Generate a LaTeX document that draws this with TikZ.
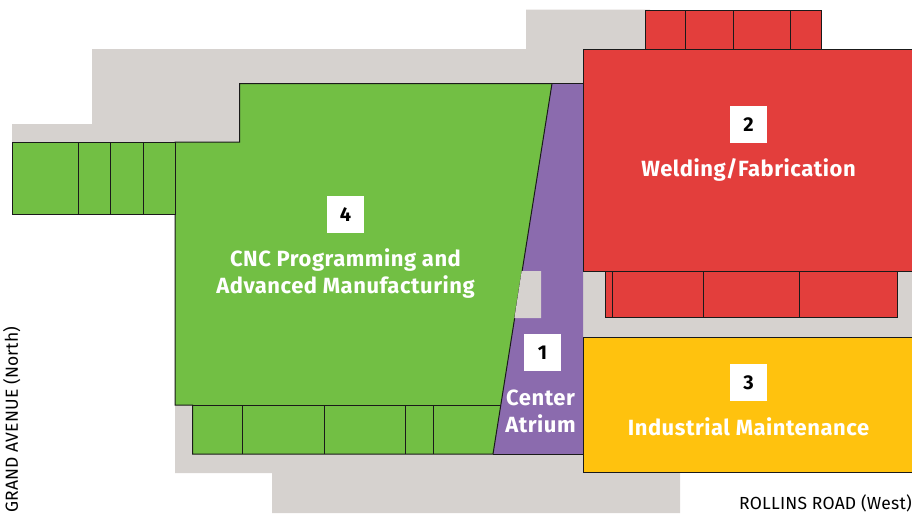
\documentclass[tikz,border=0pt]{standalone}
\usepackage{fontspec}
\setmainfont{Fira Sans}
\newfontfamily\lblfont[LetterSpace=2.4]{Fira Sans}
\newfontfamily\streetfont[LetterSpace=1.2]{Fira Sans}
\definecolor{grayarea}{HTML}{D6D2CF}
\definecolor{greenarea}{HTML}{72BF44}
\definecolor{redarea}{HTML}{E33E3C}
\definecolor{purplearea}{HTML}{8B6BAE}
\definecolor{yellowarea}{HTML}{FFC20E}
\definecolor{edgeline}{HTML}{1A1A1A}
\tikzset{
  x=1pt,y=-1pt,
  room/.style={draw=edgeline,line width=1pt,line join=miter},
  divider/.style={draw=edgeline,line width=1pt},
  numbox/.style={fill=white,minimum width=37pt,minimum height=37pt,inner sep=0pt,font=\fontsize{20}{20}\selectfont\bfseries,text=black},
  roomlabel/.style={text=white,align=center,font=\lblfont\fontsize{22}{27}\bfseries\selectfont,inner sep=0pt},
  streetlabel/.style={text=black,font=\streetfont\fontsize{17.5}{18}\selectfont,inner sep=0pt}
}
\begin{document}
\begin{tikzpicture}
\useasboundingbox (0,0) rectangle (912,514);
% ground
\fill[grayarea] (12,124) -- (92,124) -- (92,49) -- (526,49) -- (526,9.5) -- (650,9.5) -- (650,60) -- (912,60) -- (912,340) -- (650,340) -- (680,460) -- (680,513) -- (272,513) -- (272,473) -- (175,473) -- (175,214) -- (12,214) -- cycle;
% purple
\fill[purplearea] (552,83.5) -- (583,83.5) -- (583,454) -- (493,454) -- cycle;
% green
\path[fill=greenarea,room] (239.5,83.5) -- (552,83.5) -- (493,454) -- (192.5,454) -- (192.5,405) -- (175,405) -- (175,142) -- (239.5,142) -- cycle;
\path[fill=greenarea,room] (12,142) rectangle (175,214);
\draw[divider] (78.3,142) -- (78.3,214) (110.7,142) -- (110.7,214) (143.7,142) -- (143.7,214);
\draw[divider] (192.5,405) -- (500.5,405);
\draw[divider] (242.3,405) -- (242.3,454) (324,405) -- (324,454) (405.3,405) -- (405.3,454) (433.3,405) -- (433.3,454);
\draw[divider] (493,454) -- (583,454) (552,83.5) -- (583,83.5);
% atrium court
\fill[grayarea] (521.7,271) -- (541,271) -- (541,318) -- (514.4,318) -- cycle;
% red
\path[fill=redarea,room] (645.3,10) rectangle (821,49.5);
\draw[divider] (685.3,10) -- (685.3,49.5) (733.7,10) -- (733.7,49.5) (790.3,10) -- (790.3,49.5);
\path[fill=redarea,room] (605,271) rectangle (897,317.5);
\draw[divider] (612.7,271) -- (612.7,317.5) (703.3,271) -- (703.3,317.5) (799.3,271) -- (799.3,317.5);
\fill[redarea] (583,49.5) rectangle (912,271);
\draw[divider] (912,49.5) -- (583,49.5) -- (583,271) -- (912,271);
% yellow
\fill[yellowarea] (583,337) rectangle (912,472.5);
\draw[divider] (912,337) -- (583,337) -- (583,472.5) -- (912,472.5);
% number boxes
\node[numbox] (n1) at (542.5,352.5) {1};
\node[numbox] (n2) at (748.5,124.5) {2};
\node[numbox] (n3) at (748.5,382.5) {3};
\node[numbox] (n4) at (345.5,214.5) {4};
% labels
\node[roomlabel] (l1) at (540.5,411.5) {Center\\Atrium};
\node[roomlabel] (l2) at (748.5,170) {Welding/Fabrication};
\node[roomlabel] (l3) at (748.5,427) {Industrial Maintenance};
\node[roomlabel] (l4) at (345.5,273.5) {CNC Programming and\\Advanced Manufacturing};
\node[streetlabel,anchor=south east] (rr) at (912,512) {ROLLINS ROAD (West)};
\node[streetlabel,rotate=90,anchor=south west] (ga) at (20.5,513) {GRAND AVENUE (North)};
\end{tikzpicture}
\end{document}
